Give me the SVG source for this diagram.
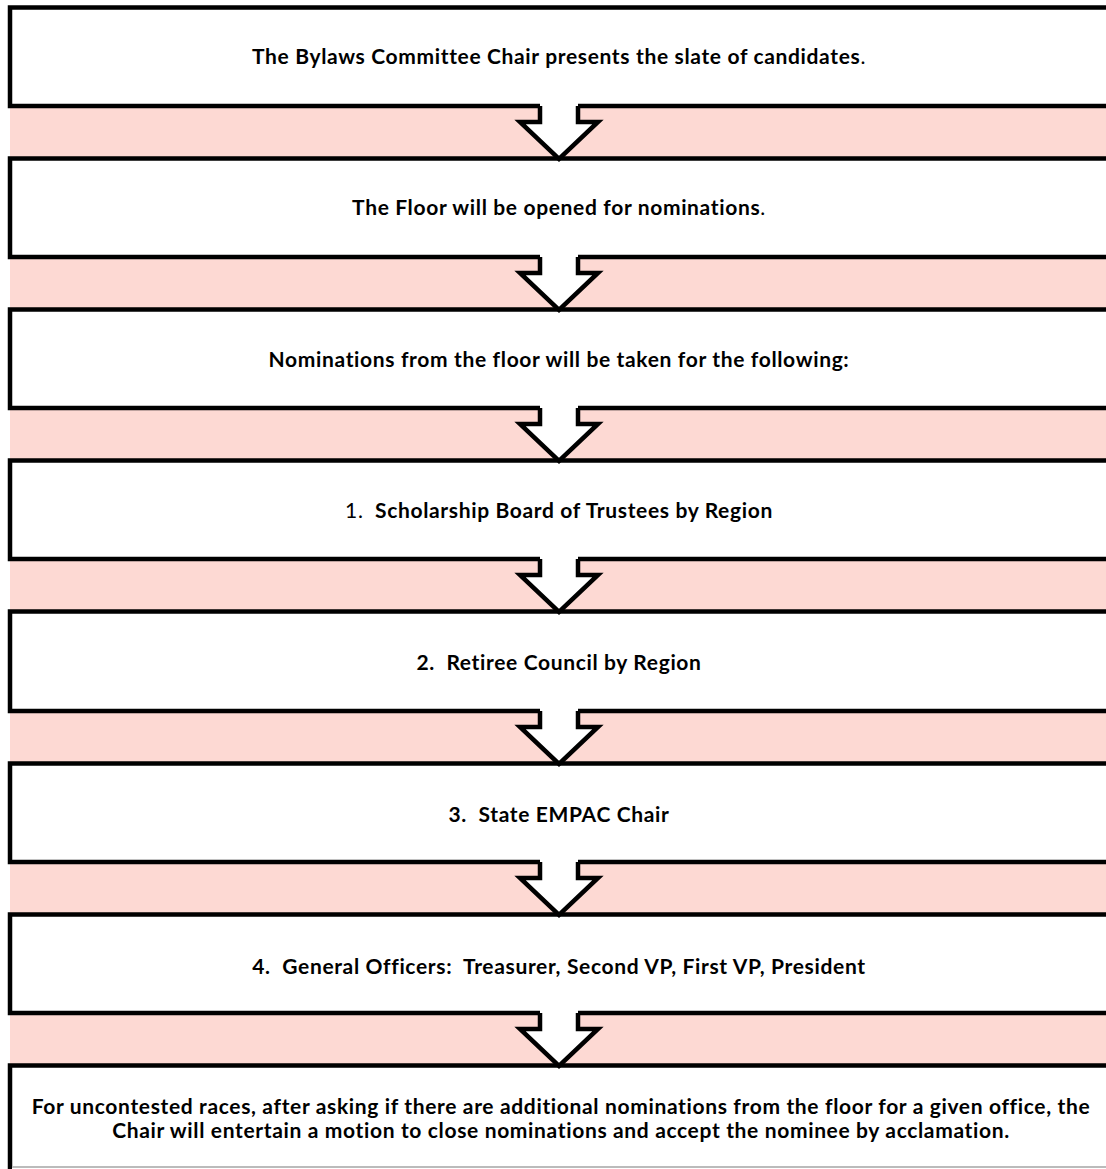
<svg xmlns="http://www.w3.org/2000/svg" width="1106" height="1169" viewBox="0 0 1106 1169">
<style>
.band{fill:#FDD9D3}
.box{fill:#fff;stroke:#000;stroke-width:4.5}
.t{font-family:Lato,"Liberation Sans",sans-serif;font-weight:bold;font-size:21px;letter-spacing:0.65px;fill:#000;text-anchor:middle}
.n{font-weight:normal}
.af{fill:#fff}
.as{fill:none;stroke:#000;stroke-width:4.5;stroke-linejoin:miter}
</style>
<rect width="1106" height="1169" fill="#fff"/>
<g id="bands">
<rect class="band" x="10" y="106" width="1100" height="52"/>
<rect class="band" x="10" y="257" width="1100" height="52"/>
<rect class="band" x="10" y="408" width="1100" height="52"/>
<rect class="band" x="10" y="559" width="1100" height="52"/>
<rect class="band" x="10" y="711" width="1100" height="52"/>
<rect class="band" x="10" y="862" width="1100" height="52"/>
<rect class="band" x="10" y="1013" width="1100" height="52"/>
</g>
<g id="node1"><rect class="box" x="10" y="7.5" width="1110" height="98.5"/>
<text class="t" x="559" y="64">The Bylaws Committee Chair presents the slate of candidates<tspan class="n">.</tspan></text></g>
<g id="node2"><rect class="box" x="10" y="158.5" width="1110" height="98.5"/>
<text class="t" x="559" y="215">The Floor will be opened for nominations<tspan class="n">.</tspan></text></g>
<g id="node3"><rect class="box" x="10" y="309.5" width="1110" height="98.5"/>
<text class="t" x="559" y="367">Nominations from the floor will be taken for the following:</text></g>
<g id="node4"><rect class="box" x="10" y="460.5" width="1110" height="98.5"/>
<text class="t" x="559" y="518" xml:space="preserve"><tspan class="n">1.</tspan>  Scholarship Board of Trustees by Region</text></g>
<g id="node5"><rect class="box" x="10" y="611.5" width="1110" height="99.5"/>
<text class="t" x="559" y="670" xml:space="preserve">2.  Retiree Council by Region</text></g>
<g id="node6"><rect class="box" x="10" y="763.5" width="1110" height="98.5"/>
<text class="t" x="559" y="822" xml:space="preserve">3.  State EMPAC Chair</text></g>
<g id="node7"><rect class="box" x="10" y="914.5" width="1110" height="98.5"/>
<text class="t" x="559" y="974" xml:space="preserve">4.  General Officers:  Treasurer, Second VP, First VP, President</text></g>
<g id="node8"><rect class="box" x="10" y="1065.5" width="1110" height="140"/>
<line x1="12" y1="1167" x2="1106" y2="1167" stroke="#bbb" stroke-width="2"/>
<rect x="12" y="1168" width="1094" height="2" fill="#fff"/>
<text class="t" x="561" y="1114">For uncontested races, after asking if there are additional nominations from the floor for a given office, the</text>
<text class="t" x="561" y="1138">Chair will entertain a motion to close nominations and accept the nominee by acclamation.</text></g>
<g id="connectors">
<g id="a1" transform="translate(0,0)"><polygon class="af" points="540,103 578,103 578,122 598,122 559,159 520,122 540,122"/><polyline class="as" points="540,106 540,122 520,122 559,159 598,122 578,122 578,106"/></g>
<g id="a2" transform="translate(0,151)"><polygon class="af" points="540,103 578,103 578,122 598,122 559,159 520,122 540,122"/><polyline class="as" points="540,106 540,122 520,122 559,159 598,122 578,122 578,106"/></g>
<g id="a3" transform="translate(0,302)"><polygon class="af" points="540,103 578,103 578,122 598,122 559,159 520,122 540,122"/><polyline class="as" points="540,106 540,122 520,122 559,159 598,122 578,122 578,106"/></g>
<g id="a4" transform="translate(0,453)"><polygon class="af" points="540,103 578,103 578,122 598,122 559,159 520,122 540,122"/><polyline class="as" points="540,106 540,122 520,122 559,159 598,122 578,122 578,106"/></g>
<g id="a5" transform="translate(0,605)"><polygon class="af" points="540,103 578,103 578,122 598,122 559,159 520,122 540,122"/><polyline class="as" points="540,106 540,122 520,122 559,159 598,122 578,122 578,106"/></g>
<g id="a6" transform="translate(0,756)"><polygon class="af" points="540,103 578,103 578,122 598,122 559,159 520,122 540,122"/><polyline class="as" points="540,106 540,122 520,122 559,159 598,122 578,122 578,106"/></g>
<g id="a7" transform="translate(0,907)"><polygon class="af" points="540,103 578,103 578,122 598,122 559,159 520,122 540,122"/><polyline class="as" points="540,106 540,122 520,122 559,159 598,122 578,122 578,106"/></g>
</g>
</svg>
